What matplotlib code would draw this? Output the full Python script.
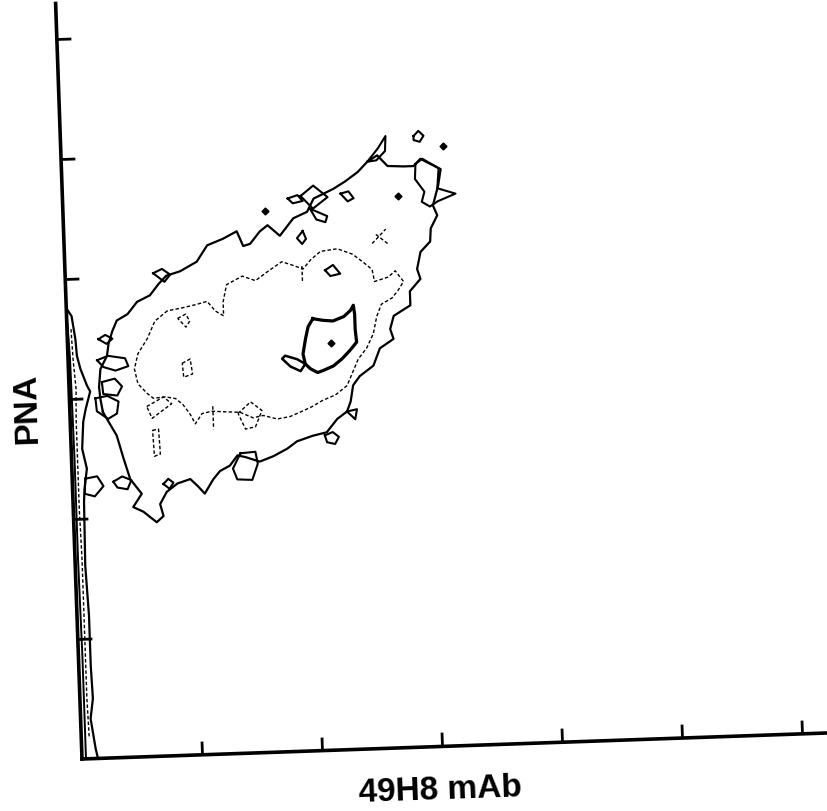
import numpy as np
import matplotlib
matplotlib.use("Agg")
import matplotlib.pyplot as plt
from matplotlib.transforms import Affine2D
import mpl_toolkits.axisartist.floating_axes as floating_axes
from mpl_toolkits.axisartist.grid_finder import FixedLocator

plt.rcParams['font.family'] = ['Liberation Sans', 'DejaVu Sans']

# === axes / labels ===
x_max, y_max = 747, 756
x_ticks = [120, 240, 360, 480, 600, 720]
y_ticks = [120, 240, 360, 480, 600, 720]
x_label = "49H8 mAb"
y_label = "PNA"
tilt_deg = 2.0  # the scanned figure is slightly rotated

# === contour lines (data units) ===
outer_contour = [(33, 346), (31, 359), (30, 371), (32, 389), (39, 402), (41, 414), (45, 426), (50, 437),
                 (61, 443), (71, 455), (84, 461), (93, 472), (101, 480), (115, 484), (132, 493), (143, 509),
                 (159, 515), (173, 522), (179, 507), (186, 509), (196, 521), (204, 527), (216, 516),
                 (230, 533), (244, 539), (251, 552), (271, 561), (283, 568), (296, 577), (306, 587),
                 (316, 593), (326, 582), (342, 581), (352, 581), (359, 588), (379, 577), (376, 561),
                 (370, 541), (374, 531), (367, 518), (366, 505), (356, 495), (352, 478), (355, 468),
                 (344, 456), (344, 442), (327, 432), (323, 419), (326, 409), (312, 400), (305, 383),
                 (291, 373), (284, 364), (281, 348), (277, 338), (267, 331), (256, 318), (242, 315),
                 (226, 310), (216, 303), (202, 296), (188, 291), (174, 296), (166, 298), (158, 288),
                 (148, 283), (141, 275), (132, 261), (125, 269), (118, 276), (105, 272), (94, 264),
                 (87, 252), (90, 240), (83, 234), (70, 245), (60, 250), (69, 263), (58, 278), (52, 299),
                 (46, 322)]

dashed_contour = [(101, 445), (88, 435), (80, 418), (70, 403), (66, 388), (69, 373), (78, 363), (84, 358),
                  (96, 359), (106, 357), (113, 351), (120, 341), (125, 331), (132, 341), (142, 343),
                  (155, 342), (170, 341), (183, 335), (193, 337), (207, 333), (220, 335), (230, 339),
                  (242, 344), (253, 350), (266, 355), (278, 364), (284, 377), (290, 390), (299, 401),
                  (306, 415), (310, 432), (315, 444), (326, 450), (332, 457), (338, 466), (330, 477),
                  (323, 471), (309, 467), (307, 479), (298, 487), (288, 495), (273, 501), (256, 499),
                  (246, 491), (238, 482), (228, 486), (217, 490), (203, 481), (190, 472), (177, 477),
                  (161, 469), (157, 452), (157, 438), (149, 443), (141, 453), (129, 450), (114, 447)]

inner_contour = [(246, 432), (256, 430), (266, 429), (277, 433), (284, 439), (287, 444), (288, 435),
                 (288, 420), (289, 407), (282, 399), (274, 391), (265, 384), (255, 380), (249, 378),
                 (242, 382), (237, 387), (235, 397), (238, 412), (241, 424)]
inner_hook = [(237, 387), (229, 392), (217, 396), (214, 393), (222, 385), (232, 380), (237, 387)]
peak_dot = [(263, 407)]

solid_islands = [
    [(353, 611), (358, 616), (363, 611), (359, 605), (353, 607)],
    [(239, 520), (242, 512), (238, 507), (233, 513)],
    [(31, 419), (38, 423), (45, 419), (39, 414)],
    [(29, 398), (40, 402), (57, 399), (60, 391), (47, 387), (35, 391)],
    [(33, 376), (46, 379), (53, 371), (48, 362), (34, 364)],
    [(26, 360), (38, 362), (49, 356), (47, 344), (38, 339), (27, 347)],
    [(254, 315), (262, 318), (268, 313), (264, 306), (256, 308)],
    [(277, 338), (287, 340), (285, 330)],
    [(41, 276), (50, 281), (59, 277), (55, 268), (45, 270)],
    [(91, 272), (96, 277), (101, 273), (97, 267)],
    [(169, 300), (184, 301), (186, 289), (180, 273), (165, 274), (161, 285)],
    [(88, 483), (97, 487), (105, 481), (99, 474)],
    [(225, 553), (235, 556), (240, 550), (230, 548)],
    [(238, 555), (251, 565), (265, 553), (250, 542)],
    [(247, 542), (264, 534), (262, 528), (253, 531)],
    [(278, 556), (286, 558), (291, 551), (285, 548)],
    [(306, 587), (317, 600), (325, 612), (324, 597), (315, 588)],
    [(354, 583), (361, 588), (377, 578), (375, 558), (393, 552), (375, 545), (367, 540), (359, 545),
     (362, 555), (353, 568)],
    [(260, 480), (268, 485), (275, 476), (265, 474)],
    [(13, 280), (25, 282), (31, 272), (22, 262), (12, 265)],
]
solid_dots = [(382, 600), (335, 552), (202, 541)]

dashed_islands = [
    [(111, 437), (119, 441), (123, 434), (119, 428)],
    [(114, 392), (122, 396), (124, 381), (115, 378)],
    [(77, 350), (94, 359), (102, 352), (82, 338)],
    [(82, 326), (88, 327), (89, 302), (83, 300)],
    [(168, 340), (181, 351), (192, 342), (185, 326), (175, 324)],
]
dashed_strokes = [[(308, 505), (322, 519)], [(312, 514), (324, 504)],
                  [(143, 348), (143, 325)], [(237, 485), (237, 469)]]

# population squeezed against the y axis
edge_outer = [(0, 451), (5, 443), (8, 420), (9, 403), (12, 390), (18, 373), (21, 367), (16, 350),
              (13, 337), (11, 310), (15, 290), (12, 270), (11, 257), (10, 193), (12, 143), (12, 93),
              (13, 60), (10, 40), (14, 10), (16, 0)]
edge_inner = [(0, 451), (2, 400), (3, 300), (3, 200), (4, 100), (4, 0)]
edge_dashed = [(4, 430), (5, 400), (7, 370), (6, 340), (6, 300), (6, 250), (7, 200), (7, 150),
               (7, 100), (7, 60), (8, 20)]


# === figure ===
fig = plt.figure(figsize=(8.28, 8.12), dpi=100)
fig.patch.set_facecolor("white")

tr = Affine2D().rotate_deg(tilt_deg)
helper = floating_axes.GridHelperCurveLinear(
    tr, extremes=(0, x_max, 0, y_max),
    grid_locator1=FixedLocator(x_ticks), grid_locator2=FixedLocator(y_ticks))

# place the rotated frame so its corner sits where the scan has it
a = np.deg2rad(tilt_deg)
bx0, bx1 = -y_max * np.sin(a), x_max * np.cos(a)
by0, by1 = 0.0, x_max * np.sin(a) + y_max * np.cos(a)
w, h = (bx1 - bx0) * 1.02, (by1 - by0) * 1.02
cx, cy = 82 + (bx0 + bx1) / 2, 52 + (by0 + by1) / 2
rect = [(cx - w / 2) / 828, (cy - h / 2) / 812, w / 828, h / 812]

ax = fig.add_axes(rect, axes_class=floating_axes.FloatingAxes, grid_helper=helper)
aux = ax.get_aux_axes(tr)
aux.patch = ax.patch
ax.patch.zorder = 0.9

for side in ["top", "right"]:
    ax.axis[side].set_visible(False)
for side in ["bottom", "left"]:
    axis = ax.axis[side]
    axis.line.set_linewidth(2.6)
    axis.major_ticks.set_ticksize(10)
    axis.major_ticks.set_tick_out(False)
    axis.major_ticks.set_markeredgewidth(2.0)
    axis.major_ticklabels.set_visible(False)

# axis titles, placed like in the scan (off-centre, tilted with the frame)
aux.text(357, -43, x_label, rotation=tilt_deg, ha="center", va="center",
         fontsize=24, fontweight="bold", clip_on=False)
aux.text(-43, 354, y_label, rotation=90 + tilt_deg, ha="center", va="center",
         fontsize=24, fontweight="bold", clip_on=False)


def draw(pts, closed=True, **kw):
    arr = np.array(pts, dtype=float)
    if closed:
        arr = np.vstack([arr, arr[:1]])
    aux.plot(arr[:, 0], arr[:, 1], color="black", solid_joinstyle="round", **kw)


draw(outer_contour, lw=1.6)
draw(dashed_contour, lw=1.0, ls=(0, (2.5, 1.6)))
draw(inner_contour, lw=2.3)
draw(inner_hook, closed=False, lw=1.8)
for isl in solid_islands:
    draw(isl, lw=1.5)
for isl in dashed_islands:
    draw(isl, lw=1.0, ls=(0, (2.5, 1.6)))
for st in dashed_strokes:
    draw(st, closed=False, lw=1.0, ls=(0, (2.5, 1.6)))

draw(edge_outer, closed=False, lw=1.6)
draw(edge_inner, closed=False, lw=1.4)
draw(edge_dashed, closed=False, lw=1.0, ls=(0, (2.5, 1.6)))

dots = np.array(solid_dots + peak_dot, dtype=float)
aux.plot(dots[:, 0], dots[:, 1], "D", color="black", ms=3.5, ls="none")

fig.savefig("out.png", dpi=100)
